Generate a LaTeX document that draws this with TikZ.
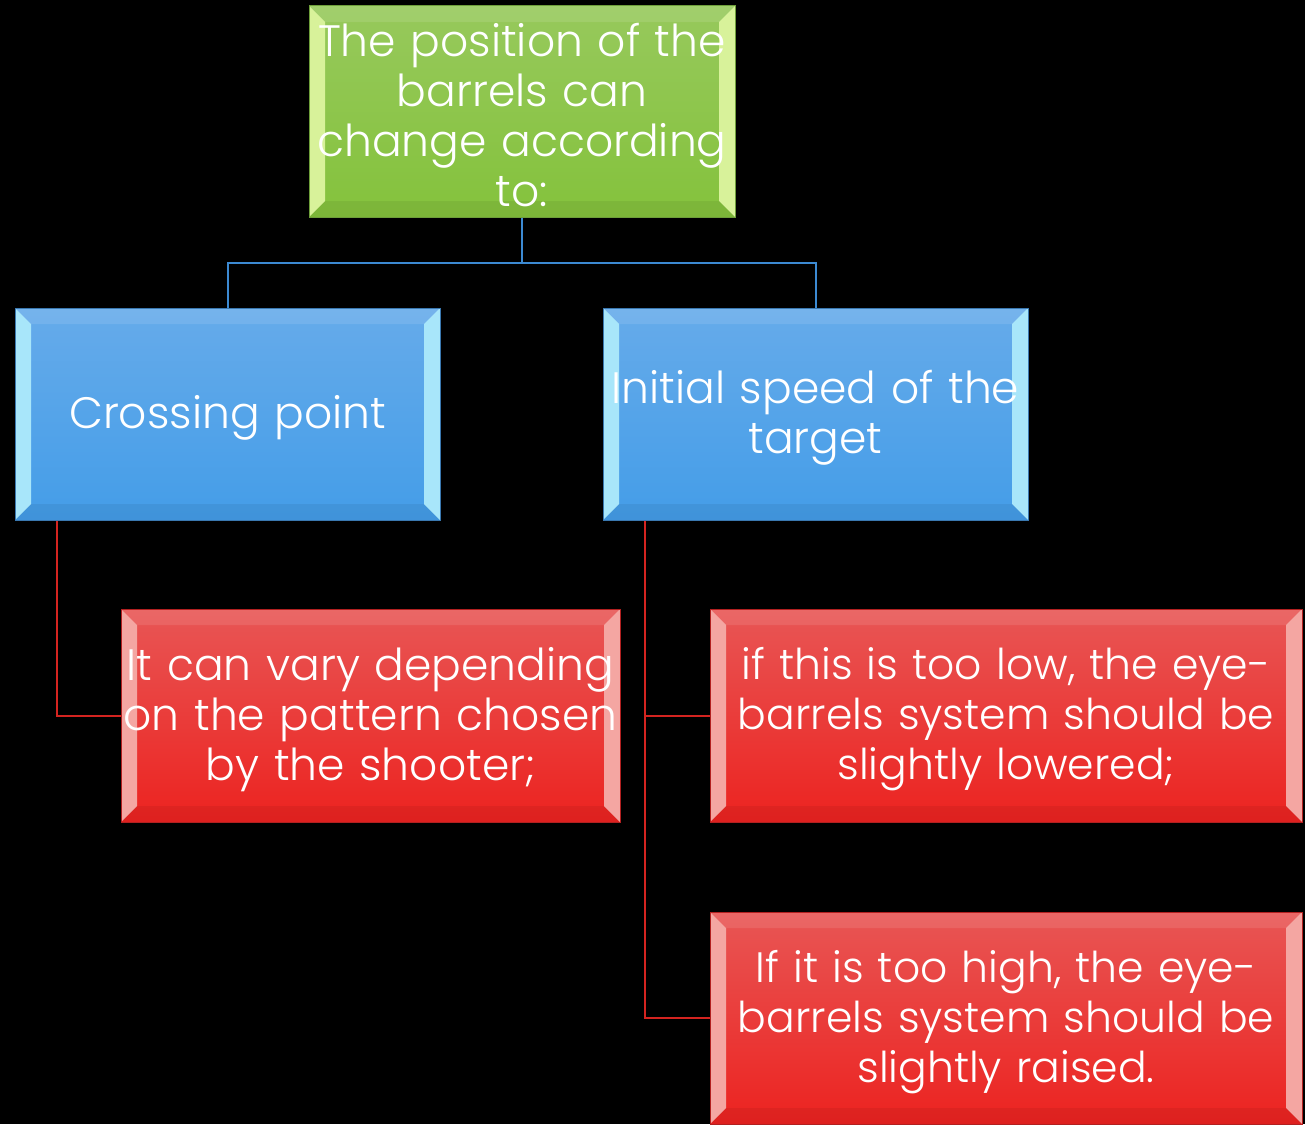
\documentclass[tikz,border=0pt]{standalone}
\usepackage{fontspec}
\setmainfont{Poppins}[UprightFont=* Light]
% one centred line of box text, lowered slightly without changing its box
\newcommand{\mline}[1]{\makebox[\linewidth][c]{\raisebox{-4pt}[\height][\depth]{#1}}}
\definecolor{grnTop}{HTML}{97C95C}
\definecolor{grnBot}{HTML}{84C23C}
\definecolor{grnSide}{HTML}{D8F29A}
\definecolor{grnEdge}{HTML}{6E9E3A}
\definecolor{bluTop}{HTML}{66ABEA}
\definecolor{bluBot}{HTML}{449DE8}
\definecolor{bluSide}{HTML}{A8E6FA}
\definecolor{bluEdge}{HTML}{3A78B0}
\definecolor{redTop}{HTML}{E85655}
\definecolor{redBot}{HTML}{EC2320}
\definecolor{redSide}{HTML}{F4A6A2}
\definecolor{redEdge}{HTML}{B22020}
\definecolor{bluLine}{HTML}{3C8AD2}
\definecolor{redLine}{HTML}{D42420}
\tikzset{
  bevelbox/.style n args={4}{
    draw=#4, line width=1pt, top color=#1, bottom color=#2,
    rectangle, inner sep=0pt, align=center, text=white,
    font=\fontsize{44}{50}\selectfont,
    path picture={
      \def\bb{path picture bounding box}
      % left and right bevel strips
      \fill[#3] (\bb.north west) -- ([shift={(16pt,-16pt)}]\bb.north west)
        -- ([shift={(16pt,16pt)}]\bb.south west) -- (\bb.south west) -- cycle;
      \fill[#3] (\bb.north east) -- ([shift={(-16pt,-16pt)}]\bb.north east)
        -- ([shift={(-16pt,16pt)}]\bb.south east) -- (\bb.south east) -- cycle;
      % top and bottom bevel strips
      \fill[white, opacity=0.10] (\bb.north west) -- (\bb.north east)
        -- ([shift={(-16pt,-16pt)}]\bb.north east) -- ([shift={(16pt,-16pt)}]\bb.north west) -- cycle;
      \fill[black, opacity=0.06] (\bb.south west) -- (\bb.south east)
        -- ([shift={(-16pt,16pt)}]\bb.south east) -- ([shift={(16pt,16pt)}]\bb.south west) -- cycle;
    }
  },
  greenbox/.style={bevelbox={grnTop}{grnBot}{grnSide}{grnEdge}},
  bluebox/.style={bevelbox={bluTop}{bluBot}{bluSide}{bluEdge}},
  redbox/.style={bevelbox={redTop}{redBot}{redSide}{redEdge}},
  widetext/.style={font=\fontsize{42.5}{50}\selectfont},
  blueconn/.style={draw=bluLine, line width=2pt},
  redconn/.style={draw=redLine, line width=2pt},
}
\begin{document}
\begin{tikzpicture}[x=1pt, y=-1pt]
  \fill[black] (0,0) rectangle (1305,1124);
  \useasboundingbox (0,0) rectangle (1305,1124);

  \node[greenbox, minimum width=426pt, minimum height=211pt, text width=410pt] (root) at (522,111.5)
    {\mline{The position of the}\\\mline{barrels can}\\\mline{change according}\\\mline{to:}};

  \node[bluebox, minimum width=425pt, minimum height=212pt, text width=410pt] (cross) at (227.5,414)
    {\mline{Crossing point}};
  \node[bluebox, minimum width=425pt, minimum height=212pt, text width=410pt] (speed) at (815.5,414)
    {\mline{Initial speed of the}\\\mline{target}};

  \node[redbox, minimum width=499pt, minimum height=213pt, text width=480pt] (vary) at (370.5,715.5)
    {\mline{It can vary depending}\\\mline{on the pattern chosen}\\\mline{by the shooter;}};
  \node[redbox, widetext, minimum width=592pt, minimum height=213pt, text width=570pt] (low) at (1006,715.5)
    {\mline{if this is too low, the eye-}\\\mline{barrels system should be}\\\mline{slightly lowered;}};
  \node[redbox, widetext, minimum width=592pt, minimum height=212pt, text width=570pt] (high) at (1006,1018)
    {\mline{If it is too high, the eye-}\\\mline{barrels system should be}\\\mline{slightly raised.}};

  % tree connectors
  \coordinate (split) at ([yshift=-45pt]root.south);
  \draw[blueconn] (root.south) -- (split) -| (cross.north);
  \draw[blueconn] (split) -| (speed.north);

  \coordinate (crossfoot) at ([xshift=42pt]cross.south west);
  \coordinate (speedfoot) at ([xshift=42pt]speed.south west);
  \draw[redconn] (crossfoot) |- (vary.west);
  \draw[redconn] (speedfoot) |- (low.west);
  \draw[redconn] (speedfoot) |- (high.west);
\end{tikzpicture}
\end{document}
